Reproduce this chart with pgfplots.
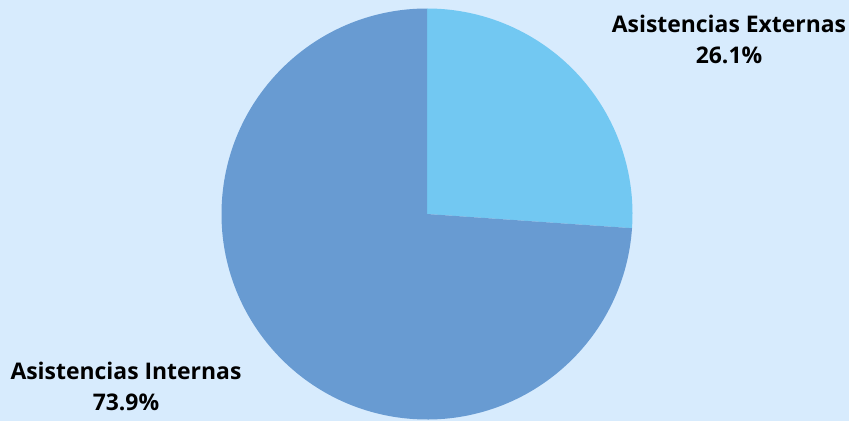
\documentclass[border=0pt]{standalone}
\usepackage{pgfplots}
\pgfplotsset{compat=1.18}
\usepackage{pgfplotstable}
\usepackage{fontspec}
\setmainfont{Open Sans}

\definecolor{bgblue}{RGB}{215,235,253}
\definecolor{extblue}{RGB}{114,200,242}
\definecolor{intblue}{RGB}{104,155,210}

% slices: value in percent, label position (px, from bottom left)
\pgfplotstableread[col sep=comma]{
label,value,lx,ly
Asistencias Externas,26.1,729,388.5
Asistencias Internas,73.9,126,41.5
}\piedata
\pgfplotstablegetelem{0}{value}\of\piedata \let\vext\pgfplotsretval
\pgfplotstablegetelem{1}{value}\of\piedata \let\vint\pgfplotsretval
\pgfmathsetmacro\aone{90-3.6*\vext}
\pgfmathsetmacro\atwo{\aone-3.6*\vint}

\begin{document}%
\begin{tikzpicture}
\begin{axis}[
  name=ax,
  x=1bp, y=1bp,
  xmin=0, xmax=849, ymin=0, ymax=421,
  hide axis,
  clip=false,
]
\fill[bgblue] (axis cs:0,0) rectangle (axis cs:849,421);
% pie, centre (427,207), radius 205.5
\fill[extblue] (axis cs:427,207) -- +(90:205.5bp)
  arc[start angle=90, end angle=\aone, radius=205.5bp] -- cycle;
\fill[intblue] (axis cs:427,207) -- +(\aone:205.5bp)
  arc[start angle=\aone, end angle=\atwo, radius=205.5bp] -- cycle;

\pgfplotsinvokeforeach{0,1}{
  \pgfplotstablegetelem{#1}{label}\of\piedata \edef\lab{\pgfplotsretval}
  \pgfplotstablegetelem{#1}{value}\of\piedata \edef\val{\pgfplotsretval}
  \pgfplotstablegetelem{#1}{lx}\of\piedata \edef\lx{\pgfplotsretval}
  \pgfplotstablegetelem{#1}{ly}\of\piedata \edef\ly{\pgfplotsretval}
  \edef\temp{\noexpand\node[anchor=base, inner sep=0pt, font=\noexpand\fontsize{23}{27}\noexpand\selectfont\noexpand\bfseries]
    at (axis cs:\lx,\ly) {\lab};
    \noexpand\node[anchor=base, inner sep=0pt, font=\noexpand\fontsize{23}{27}\noexpand\selectfont\noexpand\bfseries]
    at (axis cs:\lx,\ly-31) {\val\noexpand\%};}
  \temp
}
\end{axis}
\pgfresetboundingbox
\path[use as bounding box] (ax.south west) rectangle (ax.north east);
\end{tikzpicture}%
\end{document}
